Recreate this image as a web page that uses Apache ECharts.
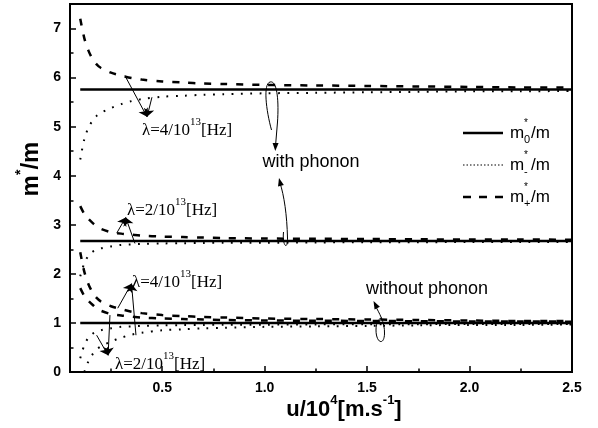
<!DOCTYPE html>
<html><head><meta charset="utf-8">
<script src="https://cdn.jsdelivr.net/npm/echarts@6/dist/echarts.min.js"></script>
<style>html,body{margin:0;padding:0;background:#fff}#c{width:598px;height:428px}</style>
</head><body><div id="c"></div>
<script>
// sample velocities u/10^4 [m/s]
const u = [0.10,0.12,0.14,0.16,0.18,0.20,0.25,0.30,0.35,0.40,0.50,0.60,0.70,0.80,1.00,1.25,1.50,1.75,2.00,2.25,2.50];
const uEnds = [0.10, 2.50];
const xMajor = [0.5,1.0,1.5,2.0,2.5];
const xMinor = [0.25,0.75,1.25,1.75,2.25];
const yMajor = [0,1,2,3,4,5,6,7];
const yMinor = [0.5,1.5,2.5,3.5,4.5,5.5,6.5];

// with phonon, lambda = 4/10^13 Hz
const m0PhL4 = [5.76, 5.76];
const mPlusPhL4  = [7.20,6.80,6.55,6.38,6.27,6.20,6.10,6.04,5.99,5.96,5.92,5.90,5.88,5.87,5.85,5.84,5.83,5.82,5.81,5.80,5.80];
const mMinusPhL4 = [4.33,4.75,4.98,5.12,5.22,5.28,5.38,5.46,5.52,5.56,5.61,5.63,5.65,5.66,5.68,5.69,5.70,5.71,5.72,5.72,5.73];
// with phonon, lambda = 2/10^13 Hz
const m0PhL2 = [2.67, 2.67];
const mPlusPhL2  = [3.38,3.22,3.12,3.04,2.97,2.92,2.85,2.82,2.80,2.78,2.76,2.75,2.74,2.73,2.72,2.715,2.71,2.705,2.70,2.70,2.695];
const mMinusPhL2 = [1.95,2.22,2.37,2.45,2.49,2.52,2.56,2.59,2.60,2.61,2.62,2.625,2.63,2.635,2.635,2.64,2.645,2.645,2.65,2.65,2.65];
// without phonon
const m0NoPh = [1.00, 1.00];
const mPlusNoL4  = [2.44,2.04,1.79,1.62,1.51,1.44,1.34,1.28,1.23,1.20,1.16,1.14,1.12,1.11,1.09,1.08,1.07,1.06,1.05,1.04,1.04];
const mMinusNoL4 = [null,0.00,0.22,0.36,0.46,0.52,0.62,0.70,0.76,0.80,0.85,0.87,0.89,0.90,0.92,0.93,0.94,0.95,0.96,0.96,0.97];
const mPlusNoL2  = [1.71,1.55,1.45,1.37,1.30,1.25,1.18,1.15,1.13,1.11,1.09,1.08,1.07,1.06,1.05,1.045,1.04,1.035,1.03,1.03,1.025];
const mMinusNoL2 = [0.28,0.55,0.70,0.78,0.82,0.85,0.89,0.92,0.93,0.94,0.95,0.955,0.96,0.965,0.965,0.97,0.975,0.975,0.98,0.98,0.98];

// annotation arrows (data coordinates: from curve to label)
const arrows = [
  [[0.318,6.04],[0.426,5.20]], [[0.45,5.60],[0.426,5.20]],
  [[0.278,2.83],[0.322,3.15]], [[0.367,2.62],[0.322,3.15]],
  [[0.283,1.30],[0.350,1.80]], [[0.372,0.75],[0.350,1.80]],
  [[0.245,1.16],[0.236,0.34]], [[0.180,0.75],[0.236,0.34]]
];

const zip = (xs, ys) => xs.map((x,i) => [x, ys[i]]);
const SOLID = {color:'#000', width:2.5, type:'solid'};
const DASH  = {color:'#000', width:2.5, type:[7,9]};
const DOT   = {color:'#000', width:2, type:[1.8,7.5]};
function line(data, ls){ return {type:'line', data, showSymbol:false, symbol:'none', smooth:0.3, lineStyle:ls, silent:true, connectNulls:false, clip:true, z:3}; }

const series = [
  line(zip(uEnds,m0PhL4),SOLID), line(zip(u,mPlusPhL4),DASH), line(zip(u,mMinusPhL4),DOT),
  line(zip(uEnds,m0PhL2),SOLID), line(zip(u,mPlusPhL2),DASH), line(zip(u,mMinusPhL2),DOT),
  line(zip(uEnds,m0NoPh),SOLID), line(zip(u,mPlusNoL4),DASH), line(zip(u,mMinusNoL4),DOT),
  line(zip(u,mPlusNoL2),DASH), line(zip(u,mMinusNoL2),DOT),
  {type:'lines', coordinateSystem:'cartesian2d', symbol:['none','arrow'], symbolSize:[0,8],
   lineStyle:{color:'#000', width:1, opacity:1, curveness:0}, data: arrows.map(a=>({coords:a})), silent:true, z:5}
];

const SANS = 'Liberation Sans, Arial, sans-serif';
const SERIF = 'Liberation Serif, Times New Roman, serif';
const lamRich = {a:{fontFamily:SERIF, fontSize:17, color:'#000', verticalAlign:'bottom', lineHeight:22},
                 b:{fontFamily:SERIF, fontSize:11, color:'#000', verticalAlign:'top', lineHeight:22}};
function lamText(x, y, lam){ return {type:'text', x, y, z:10, style:{text:'{a|λ='+lam+'/10}{b|13}{a|[Hz]}', rich:lamRich, align:'left', verticalAlign:'middle'}}; }
function plain(x,y,t){ return {type:'text', x, y, z:10, style:{text:t, fontFamily:SANS, fontSize:18, fill:'#000', align:'center', verticalAlign:'middle'}}; }
function bz(p0,c1,c2,p1){ return {type:'bezierCurve', z:10, shape:{x1:p0[0],y1:p0[1],cpx1:c1[0],cpy1:c1[1],cpx2:c2[0],cpy2:c2[1],x2:p1[0],y2:p1[1]}, style:{stroke:'#000', lineWidth:1, fill:null}}; }
function seg(p0,p1){ return {type:'line', z:10, shape:{x1:p0[0],y1:p0[1],x2:p1[0],y2:p1[1]}, style:{stroke:'#000', lineWidth:1}}; }
function head(x,y,ang){ // small filled arrowhead at (x,y) pointing at angle (deg)
  const r = ang*Math.PI/180, L=8, W=3;
  const bx = x - L*Math.cos(r), by = y - L*Math.sin(r);
  const px = -Math.sin(r)*W, py = Math.cos(r)*W;
  return {type:'polygon', z:10, shape:{points:[[x,y],[bx+px,by+py],[bx-px,by-py]]}, style:{fill:'#000'}};
}
function legendItem(y, ls, sub){
  return [
    {type:'line', z:10, shape:{x1:463,y1:y,x2:503,y2:y}, style:{stroke:'#000', lineWidth:ls.width, lineDash: ls.type==='solid'?null:ls.type}},
    {type:'text', x:510, y:y, z:10, style:{text:'m', fontFamily:SANS, fontSize:17, fill:'#000', align:'left', verticalAlign:'middle'}},
    {type:'text', x:524, y:y-10, z:10, style:{text:'*', fontFamily:SANS, fontSize:10, fill:'#000', align:'left', verticalAlign:'middle'}},
    {type:'text', x:524, y:y+7, z:10, style:{text:sub, fontFamily:SANS, fontSize:11, fill:'#000', align:'left', verticalAlign:'middle'}},
    {type:'text', x:531, y:y, z:10, style:{text:'/m', fontFamily:SANS, fontSize:17, fill:'#000', align:'left', verticalAlign:'middle'}}
  ];
}
const titleRich = (fs, ss) => ({b:{fontFamily:SANS, fontWeight:'bold', fontSize:fs, color:'#000', verticalAlign:'bottom', lineHeight:fs+5},
                                s:{fontFamily:SANS, fontWeight:'bold', fontSize:ss, color:'#000', verticalAlign:'top', lineHeight:fs+5}});

const graphic = [
  lamText(142,128,4), lamText(127,208,2), lamText(132,280,4), lamText(115,362,2),
  plain(311,162,'with phonon'), plain(427,289,'without phonon'),
  bz([271.5,130],[266,110],[263,84],[270,82]), bz([270,82],[277,80],[279,100],[277.5,122]), seg([277.5,122],[275.5,146]), head(275.3,151,92),
  bz([283.5,232],[282,246],[288,251],[287.5,238]), bz([287.5,238],[287,215],[284,195],[280,183]), head(279,178,-104),
  bz([382,318],[379,318],[376,322],[376,330]), bz([376,330],[376,343],[384,346],[384.5,334]), bz([384.5,334],[385,322],[379,313],[375,305]), head(373.5,301,-118),
  ...legendItem(133, SOLID, '0'), ...legendItem(165, {width:1.2, type:[1.5,2]}, '-'), ...legendItem(197, {width:2.5, type:[8,8]}, '+'),
  {type:'text', x:344, y:407, z:10, style:{text:'{b|u/10}{s|4}{b|[m.s}{s|-1}{b|]}', rich:titleRich(22,13), align:'center', verticalAlign:'middle'}},
  {type:'text', x:29, y:169, rotation:Math.PI/2, z:10, style:{text:'{b|m}{s|*}{b|/m}', rich:titleRich(24,14), align:'center', verticalAlign:'middle'}}
];

const AXL = {lineStyle:{color:'#000', width:2}};
const chart = echarts.init(document.getElementById('c'), null, {renderer:'canvas'});
chart.setOption({
  animation:false,
  backgroundColor:'#fff',
  grid:{left:70, right:26, top:4, bottom:56, outerBoundsMode:'none', containLabel:false, show:true, borderColor:'#000', borderWidth:2, backgroundColor:'transparent'},
  xAxis:[
    {type:'value', min:0.05, max:2.5, position:'bottom', axisLine:AXL, splitLine:{show:false},
     axisTick:{inside:true, length:6, customValues:xMajor, lineStyle:{color:'#000', width:1.5}},
     axisLabel:{customValues:xMajor, formatter:v=>v.toFixed(1), color:'#000', fontFamily:SANS, fontWeight:'bold', fontSize:14, margin:9}},
    {type:'value', min:0.05, max:2.5, position:'bottom', axisLine:{show:false}, splitLine:{show:false},
     axisTick:{inside:true, length:3.5, customValues:xMinor, lineStyle:{color:'#000', width:1.5}}, axisLabel:{show:false}}
  ],
  yAxis:[
    {type:'value', min:0, max:7.5, position:'left', axisLine:AXL, splitLine:{show:false},
     axisTick:{inside:true, length:6, customValues:yMajor, lineStyle:{color:'#000', width:1.5}},
     axisLabel:{customValues:yMajor, color:'#000', fontFamily:SANS, fontWeight:'bold', fontSize:14, margin:9}},
    {type:'value', min:0, max:7.5, position:'left', axisLine:{show:false}, splitLine:{show:false},
     axisTick:{inside:true, length:3.5, customValues:yMinor, lineStyle:{color:'#000', width:1.5}}, axisLabel:{show:false}}
  ],
  series: series,
  graphic: graphic
});
</script></body></html>
